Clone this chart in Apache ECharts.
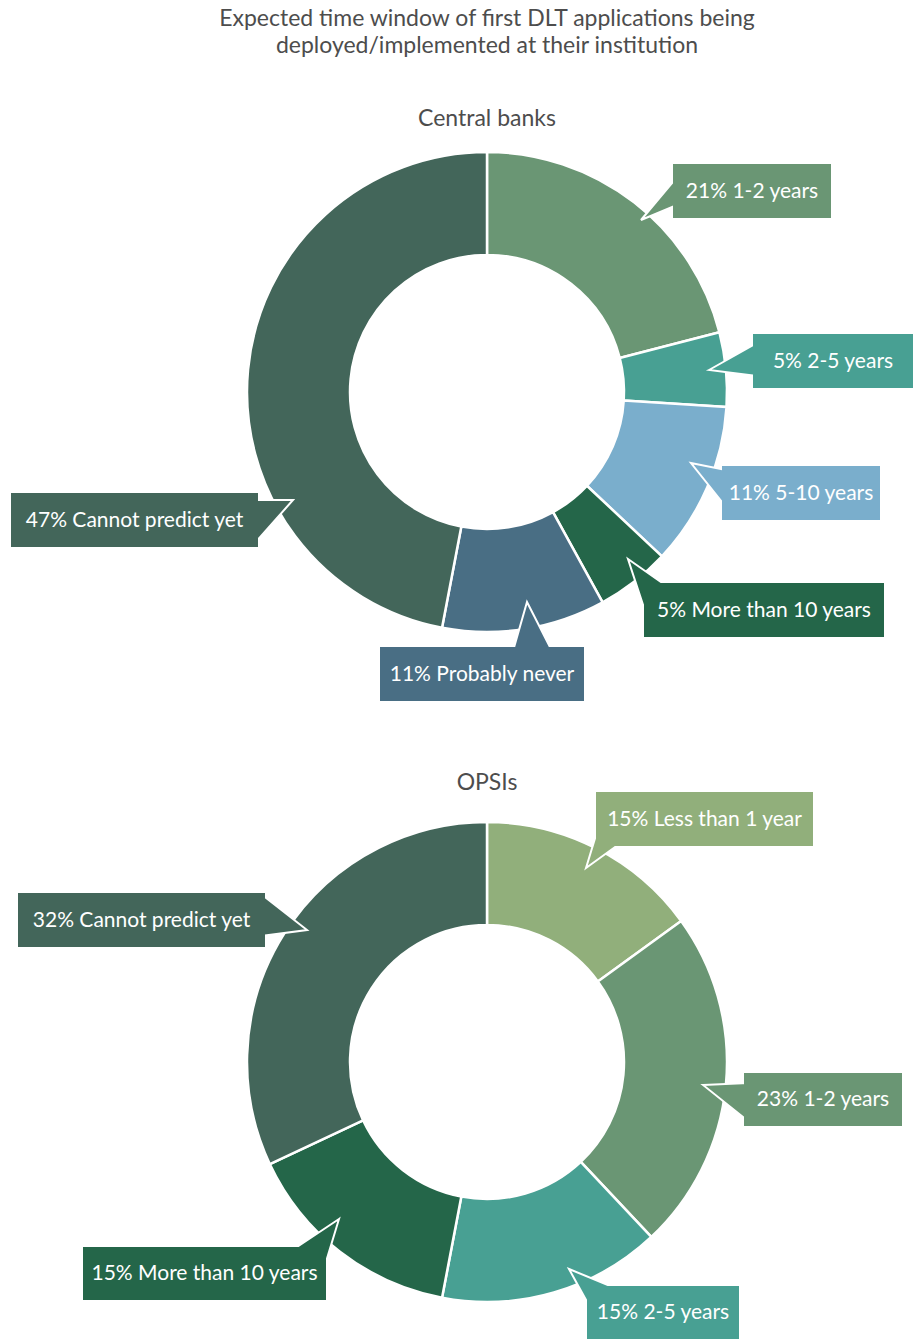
<!DOCTYPE html>
<html>
<head>
<meta charset="utf-8">
<script src="https://cdn.jsdelivr.net/npm/echarts@6/dist/echarts.min.js"></script>
<style>
  html, body { margin: 0; padding: 0; background: #ffffff; }
  #chart { width: 914px; height: 1339px; }
</style>
</head>
<body>
<div id="chart"></div>
<script>
// Survey answers, in percent
const cbCategories = ['1-2 years', '2-5 years', '5-10 years', 'More than 10 years', 'Probably never', 'Cannot predict yet'];
const cbValues = [21, 5, 11, 5, 11, 47];
const opCategories = ['Less than 1 year', '1-2 years', '2-5 years', 'More than 10 years', 'Cannot predict yet'];
const opValues = [15, 23, 15, 15, 32];

// Headings
const mainTitleLines = ['Expected time window of first DLT applications being', 'deployed/implemented at their institution'];
const panelTitles = ['Central banks', 'OPSIs'];

// Colour per answer
const answerColors = {
  'Less than 1 year': '#91AF7B',
  '1-2 years': '#6A9674',
  '2-5 years': '#48A093',
  '5-10 years': '#7AAECC',
  'More than 10 years': '#246649',
  'Probably never': '#496E84',
  'Cannot predict yet': '#43665A'
};

// Callout boxes [x, y, w, h] and pointer triangles [apex, base1, base2]
const cbCallouts = [
  { box: [673, 164, 158, 54], tail: [[641, 220], [677, 177], [677, 205]] },
  { box: [753, 334, 160, 54], tail: [[709, 370], [757, 343], [757, 376]] },
  { box: [722, 466, 158, 54], tail: [[691, 463], [726, 470], [726, 507]] },
  { box: [644, 583, 240, 54], tail: [[628, 559], [668, 587], [648, 620]] },
  { box: [380, 647, 204, 54], tail: [[527, 602], [513, 651], [552, 651]] },
  { box: [11, 493, 247, 54],  tail: [[293, 500], [254, 500], [254, 544]] }
];
const opCallouts = [
  { box: [596, 792, 217, 54], tail: [[586, 868], [600, 822], [622, 842]] },
  { box: [744, 1073, 158, 53], tail: [[703, 1085], [748, 1083], [748, 1121]] },
  { box: [587, 1286, 152, 53], tail: [[569, 1269], [620, 1290], [591, 1309]] },
  { box: [83, 1247, 243, 53], tail: [[339, 1219], [291, 1251], [322, 1275]] },
  { box: [18, 893, 247, 54],  tail: [[307, 930], [261, 894], [261, 936]] }
];

const FONT = 'Lato, "Open Sans", sans-serif';
const TITLE_COLOR = '#4d4d4d';

function pieData(cats, vals) {
  return cats.map((c, i) => ({ name: c, value: vals[i], itemStyle: { color: answerColors[c] } }));
}

function callouts(cats, vals, layout) {
  const els = [];
  cats.forEach((c, i) => {
    const L = layout[i];
    const col = answerColors[c];
    const [x, y, w, h] = L.box;
    els.push({
      type: 'polygon', z: 10,
      shape: { points: L.tail },
      style: { fill: col, stroke: '#ffffff', lineWidth: 2, lineJoin: 'miter' }
    });
    els.push({
      type: 'rect', z: 11,
      shape: { x: x, y: y, width: w, height: h },
      style: { fill: col }
    });
    els.push({
      type: 'text', z: 12,
      x: x + w / 2, y: y + h / 2 - 2,
      style: {
        text: vals[i] + '% ' + c,
        fill: '#ffffff',
        font: '21px ' + FONT,
        textAlign: 'center',
        textVerticalAlign: 'middle'
      }
    });
  });
  return els;
}

function heading(text, y) {
  return {
    type: 'text', z: 12,
    x: 487, y: y,
    style: {
      text: text,
      fill: TITLE_COLOR,
      font: '23px ' + FONT,
      textAlign: 'center',
      textVerticalAlign: 'middle'
    }
  };
}

const chart = echarts.init(document.getElementById('chart'), null, { renderer: 'svg' });

const headings = [
  heading(mainTitleLines[0], 17),
  heading(mainTitleLines[1], 44),
  heading(panelTitles[0], 117),
  heading(panelTitles[1], 781)
];

function donut(name, center, cats, vals) {
  return {
    name: name,
    type: 'pie',
    center: center,
    radius: [137, 240],
    startAngle: 90,
    clockwise: true,
    label: { show: false },
    labelLine: { show: false },
    emphasis: { disabled: true },
    itemStyle: { borderColor: '#ffffff', borderWidth: 2.5 },
    data: pieData(cats, vals)
  };
}

chart.setOption({
  backgroundColor: '#ffffff',
  animation: false,
  series: [
    donut(panelTitles[0], [487, 392], cbCategories, cbValues),
    donut(panelTitles[1], [487, 1062], opCategories, opValues)
  ],
  graphic: {
    elements: headings
      .concat(callouts(cbCategories, cbValues, cbCallouts))
      .concat(callouts(opCategories, opValues, opCallouts))
  }
});
</script>
</body>
</html>
